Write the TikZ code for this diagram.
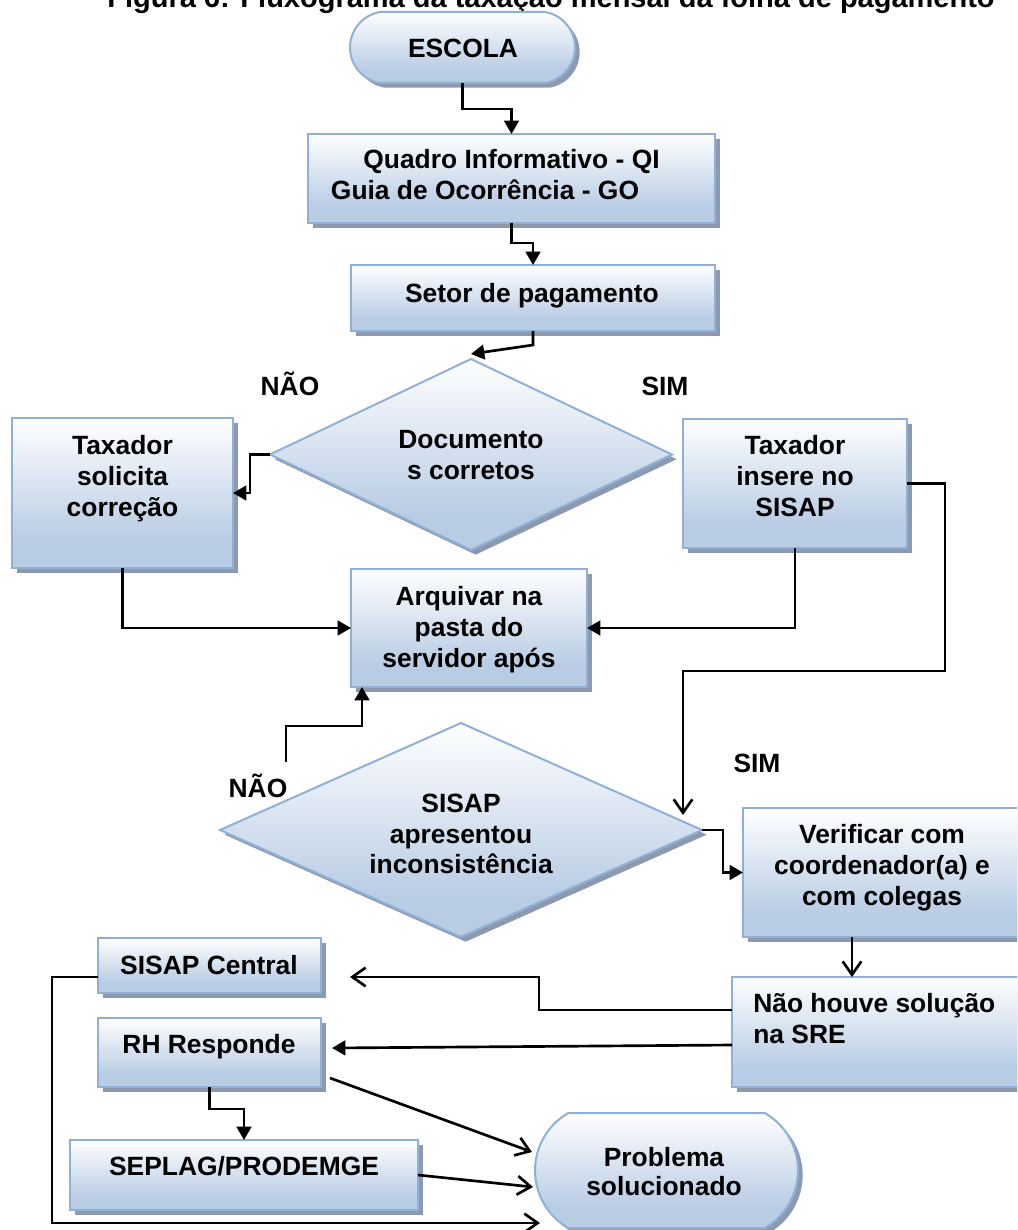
\documentclass[tikz,border=0pt]{standalone}
\usepackage{fontspec}
\setmainfont{Liberation Sans}
\usetikzlibrary{arrows.meta,shapes.geometric,shapes.misc,shadows,fit,calc}

\definecolor{edgeblue}{RGB}{143,176,216}
\definecolor{fillblue}{RGB}{184,204,228}
\definecolor{shadowgray}{RGB}{141,154,174}

% white at the top fading into light blue towards the bottom
\pgfdeclareverticalshading{boxfill}{100bp}{color(0bp)=(fillblue); color(34bp)=(fillblue); color(75bp)=(white); color(100bp)=(white)}

\begin{document}
\begin{tikzpicture}[x=0.75pt, y=-0.75pt,
  shapebase/.style={draw=edgeblue, line width=1.5pt, shading=boxfill,
    inner sep=0pt, outer sep=0pt,
    general shadow={fill=shadowgray, shadow xshift=3.5pt, shadow yshift=-3.5pt}},
  box/.style={shapebase, rectangle},
  decision/.style={shapebase, diamond},
  terminal/.style={shapebase, rounded rectangle, rounded rectangle arc length=#1},
  terminal/.default=180,
  dims/.style 2 args={minimum width=#1*0.75pt, minimum height=#2*0.75pt},
  txt/.style={font=\fontsize{19.8pt}{23pt}\selectfont\bfseries, inner sep=0pt, anchor=base},
  titletxt/.style={font=\fontsize{21.75pt}{26pt}\selectfont\bfseries, inner sep=0pt, anchor=base},
  conn/.style={line width=2pt, black},
  arr/.style={conn, -{Triangle[length=10pt,width=11pt]}},
  oarr/.style={conn, -{Straight Barb[length=10pt,width=14pt]}}]

\useasboundingbox (0,0) rectangle (1017,1230);
\fill[white] (0,0) rectangle (1017,1230);
\clip (0,0) rectangle (1017,1230);

% title
\node[titletxt] (title) at (551,8) {Figura 6: Fluxograma da taxação mensal da folha de pagamento};

% shapes
\node[terminal=160, dims={225}{71}] (escola) at (462.5,47.5) {};
\node[box, fit={(308,134) (715,223)}] (qi) {};
\node[box, fit={(351,265) (715,331)}] (setor) {};
\node[decision, dims={402}{191}] (d1) at (471,454.5) {};
\node[box, fit={(12,418) (233,568)}] (tsc) {};
\node[box, fit={(683,419) (907,548)}] (tin) {};
\node[box, fit={(351,569) (587,687)}] (arq) {};
\node[decision, dims={482}{214}] (d2) at (461,830) {};
\node[box, fit={(743,808) (1030,937)}] (ver) {};
\node[box, fit={(732,977) (1030,1087)}] (nh) {};
\node[box, fit={(98,938) (321,993)}] (sc) {};
\node[box, fit={(98,1018) (321,1087)}] (rh) {};
\node[box, fit={(70,1140) (418,1210)}] (sp) {};
\node[terminal=120, dims={263}{115}] (pb) at (666.5,1170.5) {};

% texts
\node[txt] (escola-t) at (463,58) {ESCOLA};
\node[txt] (qi-t1) at (511.5,169) {Quadro Informativo - QI};
\node[txt] (qi-t2) at (485,200) {Guia de Ocorrência - GO};
\node[txt] (setor-t) at (532,302) {Setor de pagamento};
\node[txt] (d1-t1) at (471,448) {Documento};
\node[txt] (d1-t2) at (471,479) {s corretos};
\node[txt] (tsc-t1) at (122.5,454) {Taxador};
\node[txt] (tsc-t2) at (122.5,485) {solicita};
\node[txt] (tsc-t3) at (122.5,516) {correção};
\node[txt] (tin-t1) at (795,454) {Taxador};
\node[txt] (tin-t2) at (795,485) {insere no};
\node[txt] (tin-t3) at (795,516) {SISAP};
\node[txt] (arq-t1) at (469,605) {Arquivar na};
\node[txt] (arq-t2) at (469,636) {pasta do};
\node[txt] (arq-t3) at (469,667) {servidor após};
\node[txt] (d2-t1) at (461,812) {SISAP};
\node[txt] (d2-t2) at (461,843) {apresentou};
\node[txt] (d2-t3) at (461,873) {inconsistência};
\node[txt] (ver-t1) at (882,843) {Verificar com};
\node[txt] (ver-t2) at (882,874) {coordenador(a) e};
\node[txt] (ver-t3) at (882,905) {com colegas};
\node[txt, anchor=base west] (nh-t1) at (753,1012) {Não houve solução};
\node[txt, anchor=base west] (nh-t2) at (753,1043) {na SRE};
\node[txt] (sc-t) at (209,974) {SISAP Central};
\node[txt] (rh-t) at (209,1053) {RH Responde};
\node[txt] (sp-t) at (244,1175) {SEPLAG/PRODEMGE};
\node[txt] (pb-t1) at (664,1166) {Problema};
\node[txt] (pb-t2) at (664,1195) {solucionado};

% branch labels
\node[txt] (nao1) at (290,395) {NÃO};
\node[txt] (sim1) at (665,395) {SIM};
\node[txt] (nao2) at (258,797) {NÃO};
\node[txt] (sim2) at (757,772) {SIM};

% free ends of connectors
\coordinate (simtip) at (683,815);
\coordinate (naostart) at (286,762);
\coordinate (sctip) at (350,977);
\coordinate (rhtip) at (332,1048);
\coordinate (rhout) at (330,1078);
\coordinate (pbtip1) at (532,1152);
\coordinate (pbtip2) at (533,1187);
\coordinate (pbtip3) at (540,1223);

% connectors
\draw[arr] (escola.south) -- ++(0,26) -| (qi.north);
\draw[arr] (qi.south) -- ++(0,20) -| (setor.north);
\draw[arr] (setor.south) -- ++(0,14) -- ($(d1.north)+(0,-5)$);
\draw[arr] (d1.west) -- ++(-20,0) |- (tsc.east);
\draw[arr] (tsc.south) |- (arq.west);
\draw[arr] (tin.south) |- (arq.east);
\draw[oarr] (tin.east) -| (945,671) -| (simtip);
\draw[arr] (naostart) |- ($(arq.south west)+(11,39)$) -- ($(arq.south west)+(11,0)$);
\draw[arr] (d2.east) -- ++(21,0) |- (ver.west);
\draw[oarr] ($(ver.south west)+(109,0)$) -- ($(nh.north west)+(120,0)$);
\draw[oarr] ($(nh.north west)+(0,33)$) -| (539,977) -- (sctip);
\draw[arr] ($(nh.north west)+(0,68)$) -- (rhtip);
\draw[arr] (rh.south) -- ++(0,22) -| (sp.north);
\draw[oarr] (rhout) -- (pbtip1);
\draw[oarr] (sp.east) -- (pbtip2);
\draw[oarr] ($(sc.south west)+(0,-16)$) -| (52,1223) -- (pbtip3);

\end{tikzpicture}
\end{document}
